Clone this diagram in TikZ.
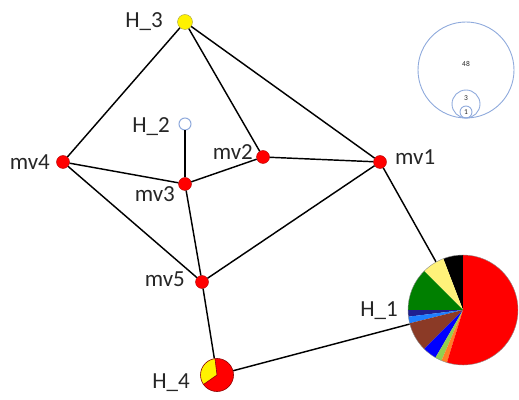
\documentclass[tikz,border=0pt]{standalone}
\usepackage{fontspec}
\setmainfont{Carlito}
\begin{document}
\begin{tikzpicture}[x=1pt,y=1pt,
  edge/.style={line width=1.45pt,black},
  mvnode/.style={circle,fill=red,draw=red!70!black,line width=0.4pt,minimum size=13pt,inner sep=0pt},
  lbl/.style={inner sep=0pt,font=\fontsize{23}{27}\selectfont,text=black!85},
  ring/.style={draw=legblue,line width=0.9pt},
  legtxt/.style={inner sep=0pt,font=\fontsize{7.5}{8}\selectfont,text=black!85}]
\definecolor{legblue}{HTML}{8FAADC}
\definecolor{slOrange}{HTML}{FF7F27}
\definecolor{slLime}{HTML}{92D050}
\definecolor{slBlue}{HTML}{0000FF}
\definecolor{slBrown}{HTML}{8B3A26}
\definecolor{slSky}{HTML}{1E7FFF}
\definecolor{slNavy}{HTML}{1F1F8F}
\definecolor{slGreen}{HTML}{007F00}
\definecolor{slYellow}{HTML}{FFF27A}
\newcommand\pieslice[5]{\fill[#5] (#1) -- ++(#3:#2) arc[start angle=#3, end angle=#4, radius=#2] -- cycle;}
\useasboundingbox (0,0) rectangle (519,399);

% graph vertices
\node[circle,fill=yellow,draw=yellow!60!black,line width=0.4pt,minimum size=15pt,inner sep=0pt] (H3) at (185,377) {};
\node[circle,fill=white,draw=legblue,line width=1pt,minimum size=12pt,inner sep=0pt] (H2) at (185,275) {};
\node[mvnode] (mv2) at (263,242) {};
\node[mvnode] (mv1) at (380,237) {};
\node[mvnode] (mv4) at (63,237) {};
\node[mvnode] (mv3) at (185,215) {};
\node[mvnode] (mv5) at (202,117) {};
\node[circle,minimum size=33pt,inner sep=0pt] (H4) at (217,24) {};
\node[circle,minimum size=110pt,inner sep=0pt] (H1) at (463,89) {};

% edges
\draw[edge] (H3) -- (mv4);
\draw[edge] (H3) -- (mv2);
\draw[edge] (H3) -- (mv1);
\draw[edge] (H2) -- (mv3);
\draw[edge] (mv4) -- (mv3);
\draw[edge] (mv4) -- (mv5);
\draw[edge] (mv3) -- (mv2);
\draw[edge] (mv3) -- (mv5);
\draw[edge] (mv2) -- (mv1);
\draw[edge] (mv1) -- (mv5);
\draw[edge] (mv1) -- (H1);
\draw[edge] (mv5) -- (H4);
\draw[edge] (H4) -- (H1);

% pie for H_4
\pieslice{H4.center}{16.5}{97}{215}{yellow}
\pieslice{H4.center}{16.5}{215}{457}{red}
\draw[red!55!black,line width=0.6pt] (H4.center) circle[radius=16.5];
\draw[red!55!black,line width=0.6pt] (H4.center) -- ++(97:16.5) (H4.center) -- ++(215:16.5);

% pie for H_1
\pieslice{H1.center}{55}{90}{111}{black}
\pieslice{H1.center}{55}{111}{135}{slYellow}
\pieslice{H1.center}{55}{135}{180}{slGreen}
\pieslice{H1.center}{55}{180}{187}{slNavy}
\pieslice{H1.center}{55}{187}{194}{slSky}
\pieslice{H1.center}{55}{194}{225}{slBrown}
\pieslice{H1.center}{55}{225}{240}{slBlue}
\pieslice{H1.center}{55}{240}{247}{slLime}
\pieslice{H1.center}{55}{247}{253}{slOrange}
\pieslice{H1.center}{55}{253}{450}{red}
\draw[black!45,line width=0.4pt] (H1.center) circle[radius=55];

% labels
\node[lbl,anchor=base east] (tH3) at (163,371) {H\_3};
\node[lbl,anchor=base east] (tH2) at (170,266) {H\_2};
\node[lbl,anchor=base east] (tmv2) at (253,239) {mv2};
\node[lbl,anchor=base west] (tmv1) at (395,234) {mv1};
\node[lbl,anchor=base east] (tmv4) at (50,229) {mv4};
\node[lbl,anchor=base east] (tmv3) at (175,197) {mv3};
\node[lbl,anchor=base east] (tmv5) at (185,112) {mv5};
\node[lbl,anchor=base east] (tH1) at (398,82) {H\_1};
\node[lbl,anchor=base east] (tH4) at (190,11) {H\_4};

% size legend
\draw[ring] (466,329) circle[radius=48];
\draw[ring] (466,295) circle[radius=14];
\draw[ring] (466,287) circle[radius=6];
\node[legtxt] (l48) at (466,335) {48};
\node[legtxt] (l3) at (466,301) {3};
\node[legtxt] (l1) at (466,286.5) {1};
\end{tikzpicture}
\end{document}
